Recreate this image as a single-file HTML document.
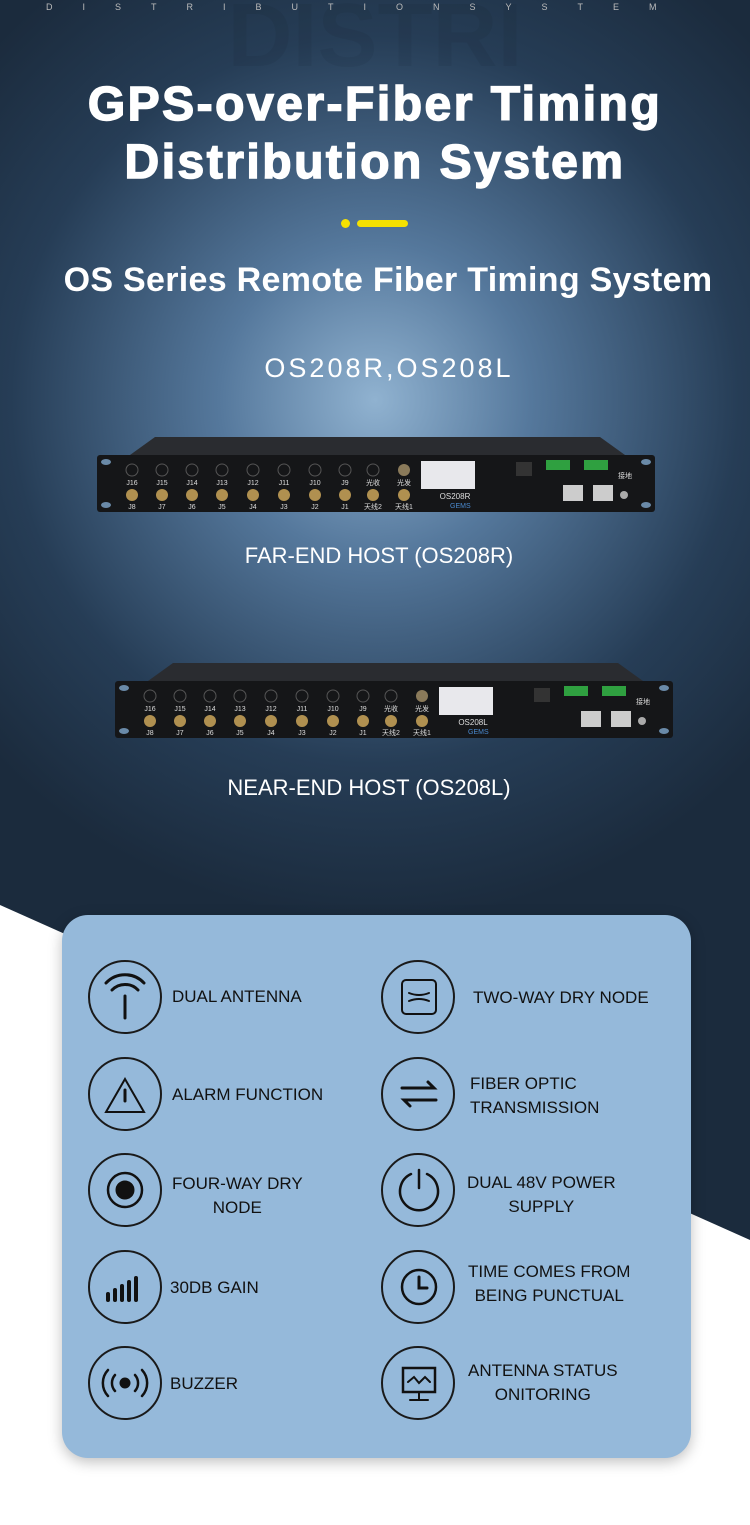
<!DOCTYPE html>
<html><head><meta charset="utf-8"><style>
body{margin:0;width:750px;height:1525px;overflow:hidden;font-family:"Liberation Sans",sans-serif;position:relative;background:#fff}
.bg{position:absolute;left:0;top:0;width:750px;height:1525px}
.t{position:absolute;color:#fff;text-align:center;width:750px;left:0}
.card{position:absolute;left:62px;top:915px;width:629px;height:543px;background:#95b9da;border-radius:26px;box-shadow:0 4px 14px rgba(0,0,0,.25)}
.ic{position:absolute;width:74px;height:74px;border:2px solid #1a1a1a;border-radius:50%;box-sizing:border-box}
.lb{position:absolute;font-size:17px;color:#111;line-height:24px}
</style></head><body>
<svg class="bg" width="750" height="1525">
<defs>
<radialGradient id="g" cx="375" cy="400" r="520" gradientUnits="userSpaceOnUse">
<stop offset="0" stop-color="#90b2d0"/><stop offset="0.3" stop-color="#55789c"/><stop offset="0.7" stop-color="#263d56"/><stop offset="1" stop-color="#1b2b3d"/></radialGradient>
</defs>
<polygon points="0,0 750,0 750,1240 0,905" fill="url(#g)"/>
<text x="375" y="66" font-family="Liberation Sans" font-weight="bold" font-size="90" fill="#000" fill-opacity="0.05" text-anchor="middle">DISTRI</text>
<g id="d1">
<polygon points="130,455 155,437 600,437 625,455" fill="#2a2c30"/>
<rect x="97" y="455" width="558" height="57" rx="3" fill="#151618"/>
<ellipse cx="106" cy="462" rx="5" ry="3" fill="#6a8aa8"/><ellipse cx="106" cy="505" rx="5" ry="3" fill="#6a8aa8"/>
<ellipse cx="646" cy="462" rx="5" ry="3" fill="#6a8aa8"/><ellipse cx="646" cy="505" rx="5" ry="3" fill="#6a8aa8"/>
<g fill="none" stroke="#555" stroke-width="1">
<circle cx="132" cy="470" r="6"/><circle cx="162" cy="470" r="6"/><circle cx="192" cy="470" r="6"/><circle cx="222" cy="470" r="6"/><circle cx="253" cy="470" r="6"/><circle cx="284" cy="470" r="6"/><circle cx="315" cy="470" r="6"/><circle cx="345" cy="470" r="6"/><circle cx="373" cy="470" r="6"/></g>
<circle cx="404" cy="470" r="6" fill="#8a7a5a"/>
<g fill="#b09050"><circle cx="132" cy="495" r="6"/><circle cx="162" cy="495" r="6"/><circle cx="192" cy="495" r="6"/><circle cx="222" cy="495" r="6"/><circle cx="253" cy="495" r="6"/><circle cx="284" cy="495" r="6"/><circle cx="315" cy="495" r="6"/><circle cx="345" cy="495" r="6"/><circle cx="373" cy="495" r="6"/><circle cx="404" cy="495" r="6"/></g>
<g font-size="7" fill="#ddd" text-anchor="middle" font-family="Liberation Sans,Noto Sans CJK SC,sans-serif">
<text x="132" y="485">J16</text><text x="162" y="485">J15</text><text x="192" y="485">J14</text><text x="222" y="485">J13</text><text x="253" y="485">J12</text><text x="284" y="485">J11</text><text x="315" y="485">J10</text><text x="345" y="485">J9</text><text x="373" y="485">光收</text><text x="404" y="485">光发</text>
<text x="132" y="509">J8</text><text x="162" y="509">J7</text><text x="192" y="509">J6</text><text x="222" y="509">J5</text><text x="253" y="509">J4</text><text x="284" y="509">J3</text><text x="315" y="509">J2</text><text x="345" y="509">J1</text><text x="373" y="509">天线2</text><text x="404" y="509">天线1</text>
<text x="625" y="478">接地</text></g>
<rect x="421" y="461" width="54" height="28" fill="#e8e8ec"/>
<rect x="516" y="462" width="16" height="14" fill="#333"/>
<rect x="546" y="460" width="24" height="10" fill="#2fa040"/><rect x="584" y="460" width="24" height="10" fill="#2fa040"/>
<rect x="563" y="485" width="20" height="16" fill="#ccc"/><rect x="593" y="485" width="20" height="16" fill="#ccc"/>
<circle cx="624" cy="495" r="4" fill="#aaa"/>
<text x="450" y="508" font-size="7" fill="#4a8ad0" font-family="Liberation Sans">GEMS</text>
</g>
<g transform="translate(18,226)"><use href="#d1"/></g>
<text x="455" y="499" font-size="8" fill="#ddd" text-anchor="middle" font-family="Liberation Sans">OS208R</text>
<text x="473" y="725" font-size="8" fill="#ddd" text-anchor="middle" font-family="Liberation Sans">OS208L</text>
</svg>
<div class="t" style="top:2px;font-size:9px;letter-spacing:30px;color:#bbb;left:46px;text-align:left">DISTRIBUTIONSYSTEM</div>
<div class="t" style="top:76px;font-size:48px;font-weight:900;line-height:58px;letter-spacing:2.5px;-webkit-text-stroke:1.5px #fff">GPS-over-Fiber Timing<br>Distribution System</div>
<div style="position:absolute;left:341px;top:219px;width:9px;height:9px;border-radius:50%;background:#f5e100"></div>
<div style="position:absolute;left:357px;top:220px;width:51px;height:7px;border-radius:4px;background:#f5e100"></div>
<div class="t" style="top:261px;font-size:34px;font-weight:bold;left:13px;letter-spacing:0.3px">OS Series Remote Fiber Timing System</div>
<div class="t" style="top:353px;font-size:27px;letter-spacing:3px;left:14px">OS208R,OS208L</div>
<div class="t" style="top:543px;font-size:22px;left:4px">FAR-END HOST (OS208R)</div>
<div class="t" style="top:775px;font-size:22px;left:-6px">NEAR-END HOST (OS208L)</div>
<div class="card"></div>
<div class="ic" style="left:88px;top:960px"></div><div class="lb" style="left:172px;top:985px">DUAL ANTENNA</div>
<div class="ic" style="left:381px;top:960px"></div><div class="lb" style="left:473px;top:986px">TWO-WAY DRY NODE</div>
<div class="ic" style="left:88px;top:1057px"></div><div class="lb" style="left:172px;top:1083px">ALARM FUNCTION</div>
<div class="ic" style="left:381px;top:1057px"></div><div class="lb" style="left:470px;top:1072px">FIBER OPTIC<br>TRANSMISSION</div>
<div class="ic" style="left:88px;top:1153px"></div><div class="lb" style="left:172px;top:1172px;text-align:center">FOUR-WAY DRY<br>NODE</div>
<div class="ic" style="left:381px;top:1153px"></div><div class="lb" style="left:467px;top:1171px;text-align:center">DUAL 48V POWER<br>SUPPLY</div>
<div class="ic" style="left:88px;top:1250px"></div><div class="lb" style="left:170px;top:1276px">30DB GAIN</div>
<div class="ic" style="left:381px;top:1250px"></div><div class="lb" style="left:468px;top:1260px;text-align:center">TIME COMES FROM<br>BEING PUNCTUAL</div>
<div class="ic" style="left:88px;top:1346px"></div><div class="lb" style="left:170px;top:1372px">BUZZER</div>
<div class="ic" style="left:381px;top:1346px"></div><div class="lb" style="left:468px;top:1359px;text-align:center">ANTENNA STATUS<br>ONITORING</div>
<svg style="position:absolute;left:0;top:0" width="750" height="1525" fill="none" stroke="#111" stroke-width="3" stroke-linecap="round">
<path d="M125 1018V996M112 990a18 18 0 0 1 26 0M106 983a26 26 0 0 1 38 0"/>
<rect x="402" y="980" width="34" height="34" rx="4" stroke-width="2"/><path d="M409 993q10 4 20 0M409 1001q10-4 20 0" stroke-width="2"/>
<path d="M125 1079l-19 33h38z" stroke-width="2"/><path d="M125 1090v11"/>
<path d="M402 1088h32l-6-6M436 1100h-32l6 6"/>
<circle cx="125" cy="1190" r="17" stroke-width="2.5"/><circle cx="125" cy="1190" r="8" fill="#111"/>
<path d="M411 1174a19 19 0 1 0 16 0M419 1170v18" stroke-width="2.5"/>
<path d="M108 1300v-6M115 1300v-10M122 1300v-14M129 1300v-18M136 1300v-22" stroke-width="4"/>
<circle cx="419" cy="1287" r="17" stroke-width="2.5"/><path d="M419 1277v11h8"/>
<circle cx="125" cy="1383" r="4" fill="#111"/><path d="M115 1375a12 12 0 0 0 0 16M135 1375a12 12 0 0 1 0 16M108 1370a19 19 0 0 0 0 26M142 1370a19 19 0 0 1 0 26" stroke-width="2.5"/>
<rect x="403" y="1368" width="32" height="24" stroke-width="2.5"/><path d="M419 1392v7M410 1400h18M408 1382l6-5 5 6 6-6 5 5" stroke-width="2"/>
</svg>
</body></html>
